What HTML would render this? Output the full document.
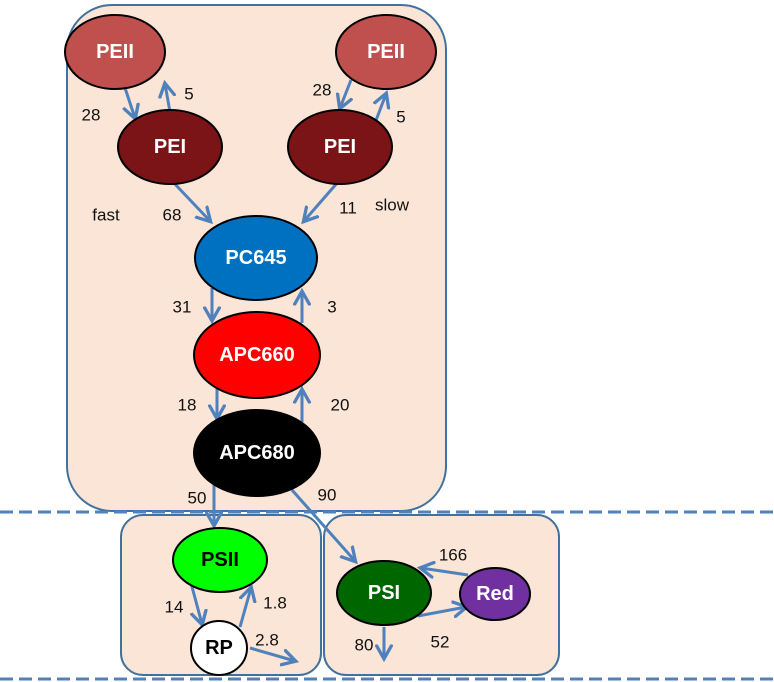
<!DOCTYPE html>
<html><head><style>
body{margin:0;background:#fff;}
svg{display:block;}
.n{font-family:"Liberation Sans",sans-serif;font-weight:bold;font-size:20px;fill:#fff;text-anchor:middle;dominant-baseline:central;}
.l{font-family:"Liberation Sans",sans-serif;font-size:17px;fill:#111;text-anchor:middle;dominant-baseline:central;}
.a{stroke:#4f81bd;stroke-width:3;fill:none;marker-end:url(#ah);}
</style></head><body>
<svg width="774" height="682" viewBox="0 0 774 682" xmlns="http://www.w3.org/2000/svg">
<defs><marker id="ah" markerWidth="6" markerHeight="6" refX="4.5" refY="3" orient="auto" markerUnits="strokeWidth"><path d="M0,0.3 L4.8,3 L0,5.7" fill="none" stroke="#4f81bd" stroke-width="1.1"/></marker></defs>
<rect x="67" y="5" width="379" height="506" rx="45" fill="#fbe5d6" stroke="#41719c" stroke-width="2"/>
<rect x="121" y="515" width="200" height="160" rx="22" fill="#fbe5d6" stroke="#41719c" stroke-width="2"/>
<rect x="324" y="515" width="235" height="160" rx="22" fill="#fbe5d6" stroke="#41719c" stroke-width="2"/>
<line x1="0" y1="512" x2="774" y2="512" stroke="#4f81bd" stroke-width="3" stroke-dasharray="13,6"/>
<line x1="0" y1="679" x2="774" y2="679" stroke="#4f81bd" stroke-width="3" stroke-dasharray="13,6"/>

<line class="a" x1="125" y1="88" x2="135" y2="118"/>
<line class="a" x1="170" y1="112" x2="165" y2="84"/>
<line class="a" x1="351" y1="80" x2="340" y2="108"/>
<line class="a" x1="375" y1="123" x2="386" y2="94"/>
<line class="a" x1="173" y1="182" x2="210" y2="221"/>
<line class="a" x1="338" y1="182" x2="304" y2="221"/>
<line class="a" x1="212" y1="288" x2="212" y2="320"/>
<line class="a" x1="302" y1="323" x2="302" y2="292"/>
<line class="a" x1="217" y1="387" x2="217" y2="418"/>
<line class="a" x1="302" y1="422" x2="302" y2="390"/>
<line class="a" x1="214" y1="480" x2="214" y2="525"/>
<line class="a" x1="292" y1="490" x2="355" y2="561"/>
<line class="a" x1="191" y1="583" x2="202" y2="624"/>
<line class="a" x1="240" y1="627" x2="251" y2="588"/>
<line class="a" x1="250" y1="648" x2="295" y2="661"/>
<line class="a" x1="468" y1="575" x2="421" y2="568"/>
<line class="a" x1="418" y1="616" x2="466" y2="607"/>
<line class="a" x1="384" y1="627" x2="384" y2="658"/>

<g stroke="#000" stroke-width="2">
<ellipse cx="115" cy="52" rx="50" ry="37" fill="#c0504d"/>
<ellipse cx="386" cy="52" rx="50" ry="37" fill="#c0504d"/>
<ellipse cx="170" cy="147" rx="52" ry="37" fill="#7b1416"/>
<ellipse cx="340" cy="147" rx="52" ry="37" fill="#7b1416"/>
<ellipse cx="256" cy="258" rx="61" ry="42" fill="#0070c0"/>
<ellipse cx="257" cy="355" rx="63" ry="43" fill="#ff0000"/>
<ellipse cx="257" cy="453" rx="63" ry="43" fill="#000"/>
<ellipse cx="220" cy="560" rx="47" ry="32" fill="#00ff00"/>
<ellipse cx="219" cy="648" rx="28" ry="27" fill="#fff"/>
<ellipse cx="384" cy="593" rx="47" ry="32" fill="#006600"/>
<ellipse cx="495" cy="594" rx="35" ry="26" fill="#7030a0"/>
</g>
<text class="n" x="115" y="52">PEII</text>
<text class="n" x="386" y="52">PEII</text>
<text class="n" x="170" y="147">PEI</text>
<text class="n" x="340" y="147">PEI</text>
<text class="n" x="256" y="258">PC645</text>
<text class="n" x="257" y="355">APC660</text>
<text class="n" x="257" y="453">APC680</text>
<text class="n" x="220" y="560" style="fill:#000">PSII</text>
<text class="n" x="219" y="648" style="fill:#000">RP</text>
<text class="n" x="384" y="593">PSI</text>
<text class="n" x="495" y="594">Red</text>

<text class="l" x="91" y="115">28</text>
<text class="l" x="189" y="94">5</text>
<text class="l" x="322" y="90">28</text>
<text class="l" x="401" y="117">5</text>
<text class="l" x="106" y="215">fast</text>
<text class="l" x="172" y="215">68</text>
<text class="l" x="348" y="208">11</text>
<text class="l" x="392" y="205">slow</text>
<text class="l" x="182" y="307">31</text>
<text class="l" x="332" y="307">3</text>
<text class="l" x="187" y="405">18</text>
<text class="l" x="340" y="405">20</text>
<text class="l" x="197" y="498">50</text>
<text class="l" x="327" y="495">90</text>
<text class="l" x="174" y="607">14</text>
<text class="l" x="275" y="603">1.8</text>
<text class="l" x="267" y="640">2.8</text>
<text class="l" x="453" y="555">166</text>
<text class="l" x="440" y="642">52</text>
<text class="l" x="364" y="645">80</text>
</svg>
</body></html>
